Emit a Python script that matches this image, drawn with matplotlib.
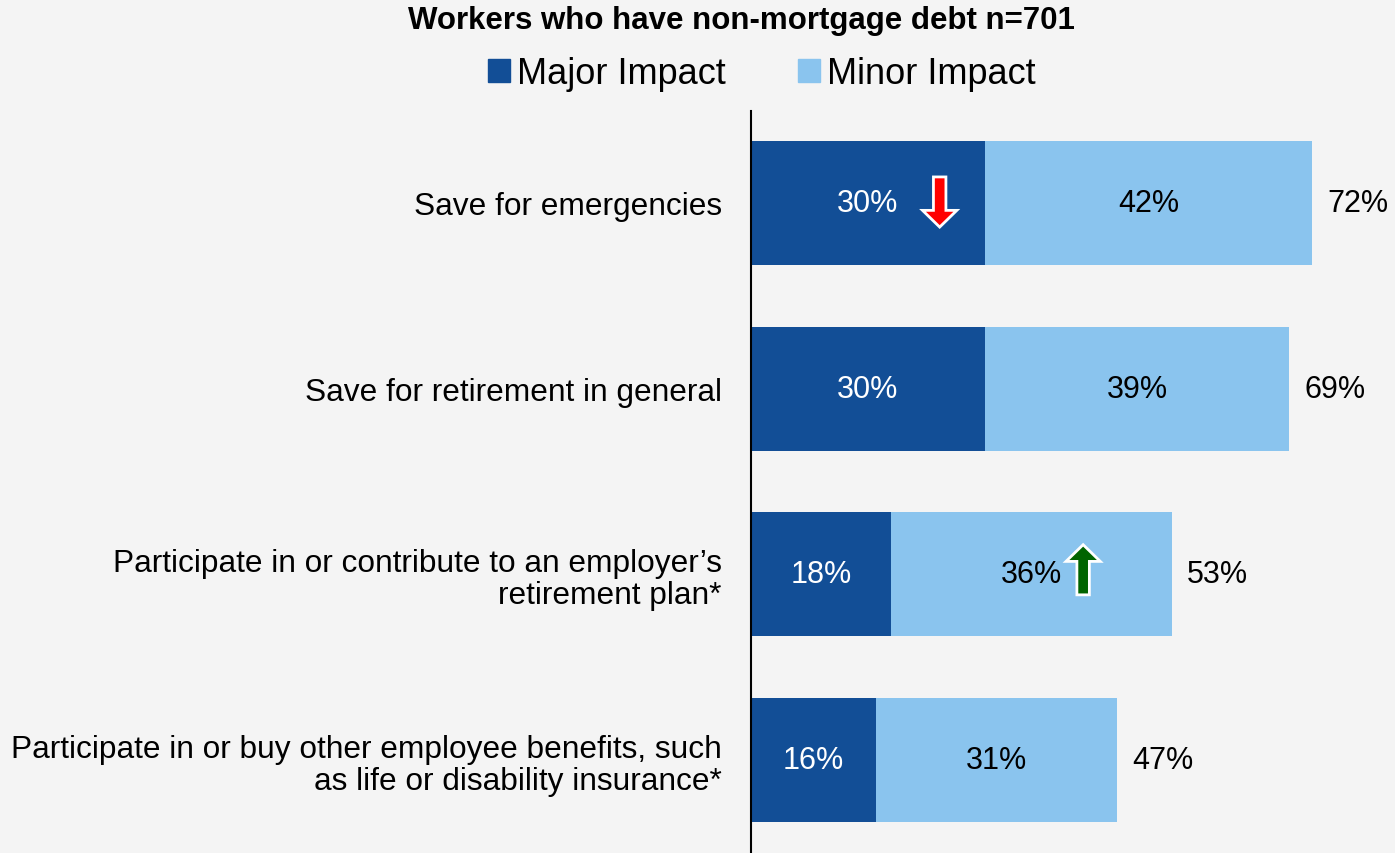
import matplotlib.pyplot as plt
from matplotlib.patches import Patch, FancyArrow

categories = [
    "Save for emergencies",
    "Save for retirement in general",
    "Participate in or contribute to an employer\u2019s\nretirement plan*",
    "Participate in or buy other employee benefits, such\nas life or disability insurance*",
]
major = [30, 30, 18, 16]
minor = [42, 39, 36, 31]
totals = [72, 69, 53, 47]

dark_blue = "#124E96"
light_blue = "#8AC4EE"
bg = "#F4F4F4"

plt.rcParams["font.family"] = ["Liberation Sans", "DejaVu Sans"]

fig = plt.figure(figsize=(13.95, 8.54), dpi=100, facecolor=bg)
ax = fig.add_axes([751 / 1395, 0, 1 - 751 / 1395, (854 - 112) / 854])
ax.set_facecolor(bg)

ypos = list(range(len(categories)))
ax.barh(ypos, major, height=0.667, color=dark_blue)
ax.barh(ypos, minor, left=major, height=0.667, color=light_blue)

for i in ypos:
    ax.text(major[i] / 2, i, f"{major[i]}%", ha="center", va="center",
            color="white", fontsize=22)
    ax.text(major[i] + minor[i] / 2, i, f"{minor[i]}%", ha="center", va="center",
            color="black", fontsize=22)
    ax.annotate(f"{totals[i]}%", xy=(major[i] + minor[i], i), xytext=(11, 0),
                textcoords="offset points", ha="left", va="center", fontsize=22)

# trend arrows
ax.add_patch(FancyArrow(24.2, -0.14, 0, 0.27, width=1.6, head_width=4.4,
                        head_length=0.09, length_includes_head=True,
                        facecolor="#FF0000", edgecolor="white", linewidth=2))
ax.add_patch(FancyArrow(42.6, 2.11, 0, -0.27, width=1.6, head_width=4.4,
                        head_length=0.09, length_includes_head=True,
                        facecolor="#006400", edgecolor="white", linewidth=2))

ax.set_xlim(0, 82.6)
ax.set_ylim(3.5, -0.495)
ax.set_xticks([])
ax.set_yticks(ypos)
ax.set_yticklabels(categories, fontsize=22.8, linespacing=1.1)
ax.tick_params(axis="y", length=0, pad=21)
for s in ["top", "right", "bottom"]:
    ax.spines[s].set_visible(False)
ax.spines["left"].set_linewidth(1.5)
ax.spines["left"].set_color("black")

fig.text(741 / 1395, 1 - 21 / 854, "Workers who have non-mortgage debt n=701",
         ha="center", va="center", fontsize=22.5, fontweight="bold")

handles = [Patch(color=dark_blue, label="Major Impact"),
           Patch(color=light_blue, label="Minor Impact")]
fig.legend(handles=handles, loc="center", bbox_to_anchor=(762 / 1395, 1 - 75 / 854),
           ncol=2, frameon=False, fontsize=26, handlelength=0.6, handleheight=0.6,
           handletextpad=0.2, columnspacing=2.0, borderpad=0)

fig.savefig("out.png", dpi=100, facecolor=bg)
